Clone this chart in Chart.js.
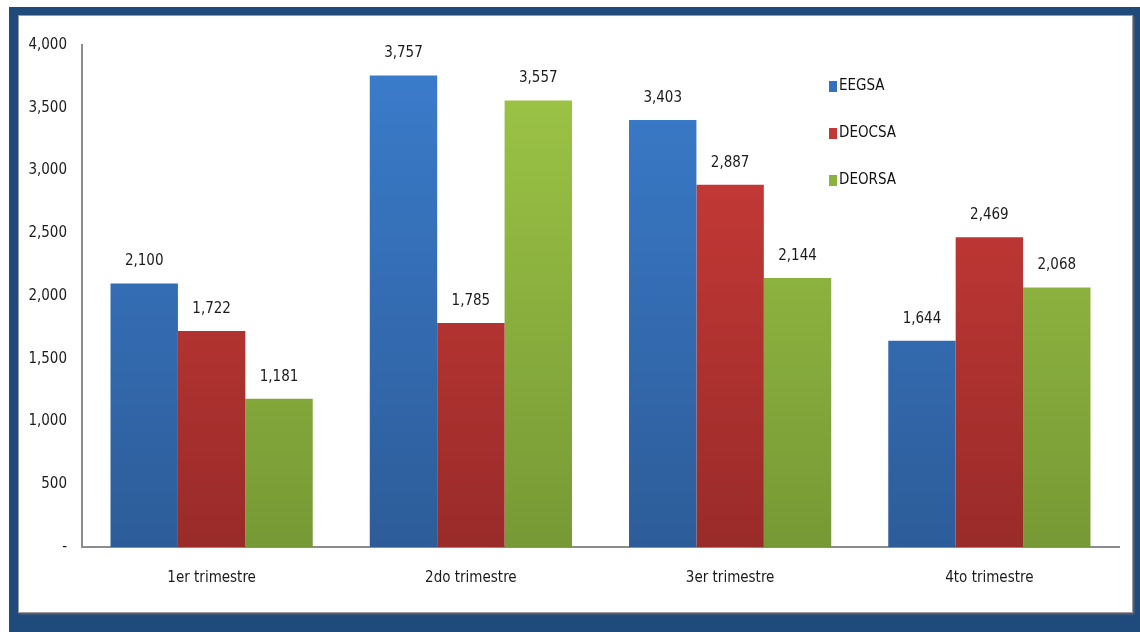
<!DOCTYPE html>
<html>
<head>
<meta charset="utf-8">
<script src="https://cdn.jsdelivr.net/npm/chart.js@4.4.1/dist/chart.umd.min.js"></script>
<style>
    html, body { margin: 0; padding: 0; background: #ffffff; }
    .frame {
        position: absolute; left: 9px; top: 7px; width: 1131px; height: 625px;
        background: #1f4a7c;
    }
    .panel {
        position: absolute; left: 9px; top: 8px; width: 1113px; height: 596px;
        background: #ffffff;
        border: 1px solid #9a9a9a;
        box-shadow: 1px 1px 2px #6d6d6d;
    }
    .chart-box { position: absolute; left: 0; top: 0; width: 1113px; height: 596px; }
</style>
</head>
<body>
<div class="frame">
    <div class="panel">
        <div class="chart-box"><canvas id="trimestres-chart"></canvas></div>
    </div>
</div>
<script>
// Datos por trimestre
const categories = ['1er trimestre', '2do trimestre', '3er trimestre', '4to trimestre'];
const seriesNames = ['EEGSA', 'DEOCSA', 'DEORSA'];
const eegsa = [2100, 3757, 3403, 1644];
const deocsa = [1722, 1785, 2887, 2469];
const deorsa = [1181, 3557, 2144, 2068];
const yTicks = [0, 500, 1000, 1500, 2000, 2500, 3000, 3500, 4000];

const FONT = "'Liberation Sans Narrow', 'DejaVu Sans Condensed', 'Liberation Sans', sans-serif";

// Colores: tope / base del degradado y color de leyenda
const palette = [
    { top: '#3b7dcd', bottom: '#2d5c99', legend: '#3572be' },
    { top: '#d13d3a', bottom: '#992b29', legend: '#c43634' },
    { top: '#9fc747', bottom: '#779935', legend: '#8db33f' }
];

function gradientFor(index) {
    return (ctx) => {
        const chart = ctx.chart;
        const area = chart.chartArea;
        if (!area) return palette[index].top;
        const g = chart.ctx.createLinearGradient(0, area.bottom, 0, area.top);
        g.addColorStop(0, palette[index].bottom);
        g.addColorStop(1, palette[index].top);
        return g;
    };
}

const formatNumber = (v) => v === 0 ? '-' : v.toLocaleString('en-US');

/**
 * Etiquetas de valor encima de cada barra
 */
const valueLabels = {
    id: 'valueLabels',
    afterDatasetsDraw(chart) {
        const c = chart.ctx;
        c.save();
        c.font = '15px ' + FONT;
        c.fillStyle = '#1b1b1b';
        c.textAlign = 'center';
        c.textBaseline = 'middle';
        chart.data.datasets.forEach((ds, i) => {
            chart.getDatasetMeta(i).data.forEach((bar, j) => {
                c.fillText(formatNumber(ds.data[j]), bar.x, bar.y - 22);
            });
        });
        c.restore();
    }
};

/**
 * Leyenda dentro del área del gráfico
 */
const insideLegend = {
    id: 'insideLegend',
    afterDraw(chart) {
        const c = chart.ctx;
        const area = chart.chartArea;
        const x = area.left + 747;
        c.save();
        c.font = '15px ' + FONT;
        c.textAlign = 'left';
        c.textBaseline = 'middle';
        seriesNames.forEach((name, i) => {
            const y = area.top + 41 + i * 47;
            c.fillStyle = palette[i].legend;
            c.fillRect(x, y - 5, 8, 11);
            c.fillStyle = '#111111';
            c.fillText(name, x + 10, y);
        });
        c.restore();
    }
};

const datasets = [eegsa, deocsa, deorsa].map((values, i) => ({
    label: seriesNames[i],
    data: values,
    backgroundColor: gradientFor(i),
    borderWidth: 0,
    categoryPercentage: 0.78,
    barPercentage: 1.0
}));

new Chart(document.getElementById('trimestres-chart'), {
    type: 'bar',
    data: { labels: categories, datasets: datasets },
    options: {
        responsive: true,
        maintainAspectRatio: false,
        animation: false,
        layout: { padding: { top: 29, right: 13, left: 0, bottom: 0 } },
        plugins: {
            legend: { display: false },
            tooltip: { enabled: false }
        },
        scales: {
            x: {
                grid: { display: false, drawTicks: false },
                border: { display: true, color: '#8c8c8c', width: 2 },
                ticks: {
                    color: '#1b1b1b',
                    font: { family: FONT, size: 15 },
                    padding: 22
                },
                afterFit: (scale) => { scale.height = 65; }
            },
            y: {
                min: 0,
                max: 4000,
                afterBuildTicks: (scale) => {
                    scale.ticks = yTicks.map(v => ({ value: v }));
                },
                grid: { display: false, drawTicks: false },
                border: { display: true, color: '#8c8c8c', width: 2 },
                ticks: {
                    color: '#1b1b1b',
                    font: { family: FONT, size: 15 },
                    padding: 15,
                    callback: (v) => formatNumber(v)
                },
                afterFit: (scale) => { scale.width = 63; }
            }
        }
    },
    plugins: [valueLabels, insideLegend]
});
</script>
</body>
</html>
